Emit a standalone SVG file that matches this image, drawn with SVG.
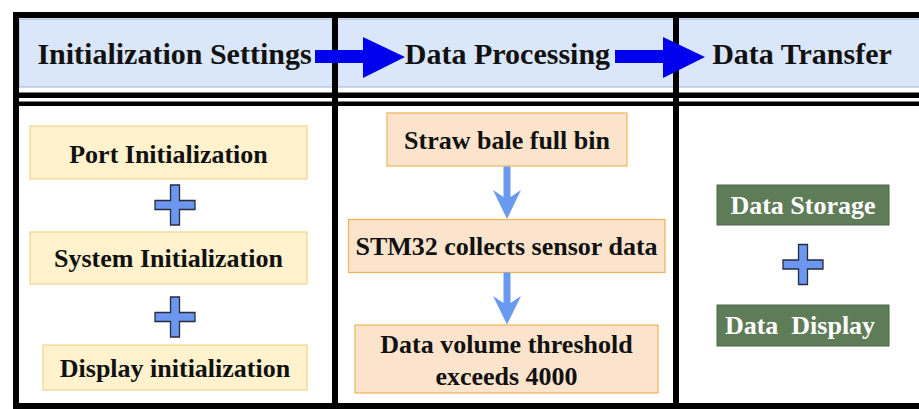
<svg xmlns="http://www.w3.org/2000/svg" width="919" height="409" viewBox="0 0 919 409">
  <defs>
    <style>
      .t { font-family: "Liberation Serif", "Times New Roman", serif; font-weight: bold; fill: #111111; text-anchor: middle; }
      .h { font-size: 30px; }
      .b { font-size: 26px; }
      .w { fill: #ffffff; }
      .frame { fill: #000000; }
      .init { fill: #fff2cc; stroke: #f0d48c; stroke-width: 1.2; }
      .proc { fill: #fce4cc; stroke: #eeb457; stroke-width: 1.2; }
      .xfer { fill: #5f7c59; stroke: #4c6447; stroke-width: 1; }
      .plus { fill: #6d96f0; stroke: #262d3a; stroke-width: 1.3; }
      .flow { fill: #6a9af0; }
      .stage { fill: #0000ee; }
    </style>
    <!-- plus sign, centred on the origin -->
    <path id="plus" d="M -4.5,-20 H 4.5 V -4.5 H 20 V 4.5 H 4.5 V 20 H -4.5 V 4.5 H -20 V -4.5 H -4.5 Z"/>
  </defs>

  <rect width="919" height="409" fill="#ffffff"/>

  <!-- header band -->
  <rect x="19" y="19" width="905" height="68" fill="#dae7fa" stroke="#9db2d4" stroke-width="1"/>

  <!-- table frame -->
  <g id="frame">
    <rect class="frame" x="13" y="12" width="906" height="6"/>
    <rect class="frame" x="13" y="12" width="6" height="397"/>
    <rect class="frame" x="13" y="403" width="906" height="6"/>
    <rect class="frame" x="19" y="92.5" width="900" height="5.5"/>
    <rect class="frame" x="19" y="101.5" width="900" height="4.5"/>
    <rect class="frame" x="332" y="18" width="6" height="386"/>
    <rect class="frame" x="673" y="18" width="6" height="386"/>
  </g>

  <!-- column headings -->
  <g id="head-init"><text class="t h" x="174.5" y="64">Initialization Settings</text></g>
  <g id="head-proc"><text class="t h" x="507.5" y="64">Data Processing</text></g>
  <g id="head-xfer"><text class="t h" x="802" y="64">Data Transfer</text></g>

  <!-- initialization column -->
  <g id="port-init">
    <rect class="init" x="30" y="126" width="277" height="53"/>
    <text class="t b" x="168.5" y="162.5">Port Initialization</text>
  </g>
  <g id="system-init">
    <rect class="init" x="30" y="232" width="277" height="52"/>
    <text class="t b" x="168.5" y="266.5">System Initialization</text>
  </g>
  <g id="display-init">
    <rect class="init" x="43" y="345" width="264" height="45"/>
    <text class="t b" x="175" y="377">Display initialization</text>
  </g>

  <!-- processing column -->
  <g id="full-bin">
    <rect class="proc" x="387" y="113" width="240" height="53"/>
    <text class="t b" x="507" y="149">Straw bale full bin</text>
  </g>
  <g id="collect">
    <rect class="proc" x="348.5" y="219.5" width="316.5" height="53"/>
    <text class="t b" x="506.5" y="255">STM32 collects sensor data</text>
  </g>
  <g id="threshold">
    <rect class="proc" x="355" y="325" width="303" height="68"/>
    <text class="t b" x="506.5" y="353">Data volume threshold</text>
    <text class="t b" x="506.5" y="385">exceeds 4000</text>
  </g>

  <!-- transfer column -->
  <g id="storage">
    <rect class="xfer" x="717" y="185" width="172" height="40"/>
    <text class="t b w" x="803" y="214">Data Storage</text>
  </g>
  <g id="display">
    <rect class="xfer" x="717" y="305" width="172" height="41"/>
    <text class="t b w" x="800" y="333.5" style="white-space: pre">Data  Display</text>
  </g>

  <!-- connectors -->
  <g id="connectors">
    <!-- stage arrows in the header -->
    <path class="stage" d="M 315,50 H 363 V 37 L 405,57 L 363,78 V 63 H 315 Z"/>
    <path class="stage" d="M 615,50 H 663 V 37 L 705,57 L 663,78 V 63 H 615 Z"/>
    <!-- flow arrows between processing steps -->
    <path class="flow" d="M 503.5,166.5 H 510.5 V 197 L 521,190 L 507,219 L 493,190 L 503.5,197 Z"/>
    <path class="flow" d="M 503.5,272.5 H 510.5 V 303 L 521,296 L 507,324.5 L 493,296 L 503.5,303 Z"/>
    <!-- plus signs -->
    <use href="#plus" class="plus" x="175" y="205"/>
    <use href="#plus" class="plus" x="175" y="317"/>
    <use href="#plus" class="plus" x="803" y="264.5"/>
  </g>
</svg>
